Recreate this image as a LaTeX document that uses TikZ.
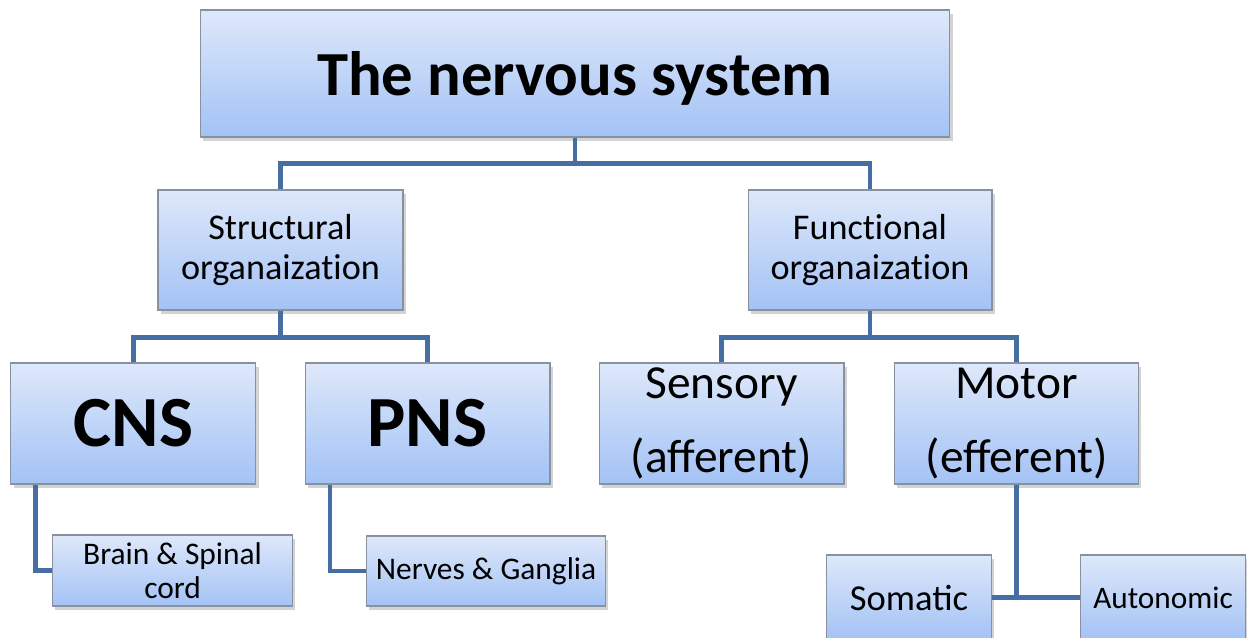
\documentclass[tikz,border=0pt]{standalone}
\usepackage{fontspec}
\setmainfont{Carlito}
\usepackage{tikz}
\usetikzlibrary{shadows}

\definecolor{boxtop}{RGB}{222,232,250}
\definecolor{boxbot}{RGB}{163,194,245}
\definecolor{boxline}{RGB}{135,145,160}
\definecolor{linkblue}{RGB}{70,110,162}

\tikzset{
  box/.style={draw=boxline, line width=0.6pt, top color=boxtop, bottom color=boxbot,
    inner sep=0pt, align=center,
    drop shadow={opacity=0.35, shadow xshift=1.5pt, shadow yshift=-2.5pt}},
  link/.style={draw=linkblue, line width=2.7pt}
}

\begin{document}
\begin{tikzpicture}[x=0.02cm, y=-0.02cm]
    \useasboundingbox (0,0) rectangle (1247,637);
    \clip (0,0) rectangle (1247,637);

    % top level
    \node[box, minimum width=15cm, minimum height=2.54cm, text depth=0pt,
          font=\fontsize{35.7}{40}\selectfont\bfseries] (title) at (575,73.5) {The nervous system};

    % organisation
    \node[box, minimum width=4.9cm, minimum height=2.4cm,
          font=\fontsize{20.6}{22.7}\selectfont\addfontfeatures{Ligatures=NoCommon}] (struct) at (280.5,250) {Structural\\organaization};
    \node[box, minimum width=4.88cm, minimum height=2.4cm,
          font=\fontsize{20.6}{22.7}\selectfont\addfontfeatures{Ligatures=NoCommon}] (func) at (870,250) {Functional\\organaization};

    % divisions
    \node[box, minimum width=4.9cm, minimum height=2.42cm,
          font=\fontsize{41}{45}\selectfont\bfseries] (cns) at (133.4,423.5) {CNS};
    \node[box, minimum width=4.9cm, minimum height=2.42cm,
          font=\fontsize{41}{45}\selectfont\bfseries] (pns) at (427.5,423.5) {PNS};
    \node[box, minimum width=4.9cm, minimum height=2.42cm,
          font=\fontsize{27}{42.5}\selectfont] (sens) at (721.5,423.5) {Sensory\\(afferent)};
    \node[box, minimum width=4.88cm, minimum height=2.42cm,
          font=\fontsize{27}{42.5}\selectfont] (motor) at (1016.7,423.5) {Motor\\(efferent)};

    % parts
    \node[box, minimum width=4.8cm, minimum height=1.42cm,
          font=\fontsize{17.9}{19.3}\selectfont] (brain) at (172.6,570.5) {Brain \& Spinal\\cord};
    \node[box, minimum width=4.79cm, minimum height=1.4cm,
          font=\fontsize{17.9}{19.3}\selectfont] (nerves) at (486,571) {Nerves \& Ganglia};
    \node[box, minimum width=3.29cm, minimum height=1.7cm,
          font=\fontsize{20.8}{23}\selectfont] (somatic) at (909,597.5) {Somatic};
    \node[box, minimum width=3.29cm, minimum height=1.7cm,
          font=\fontsize{17.8}{20}\selectfont] (autonomic) at (1163,597.5) {Autonomic};

    % connectors
    \draw[link] (title.south) -- ++(0,26) -| (struct.north);
    \draw[link] (title.south) -- ++(0,26) -| (func.north);
    \draw[link] (struct.south) -- ++(0,26.7) -| (cns.north);
    \draw[link] (struct.south) -- ++(0,26.7) -| (pns.north);
    \draw[link] (func.south) -- ++(0,26.7) -| (sens.north);
    \draw[link] (func.south) -- ++(0,26.7) -| (motor.north);
    \draw[link] ([xshift=0.5cm]cns.south west) |- (brain.west);
    \draw[link] ([xshift=0.51cm]pns.south west) |- (nerves.west);
    \draw[link] (motor.south) |- (somatic.east);
    \draw[link] (motor.south) |- (autonomic.west);
\end{tikzpicture}
\end{document}
